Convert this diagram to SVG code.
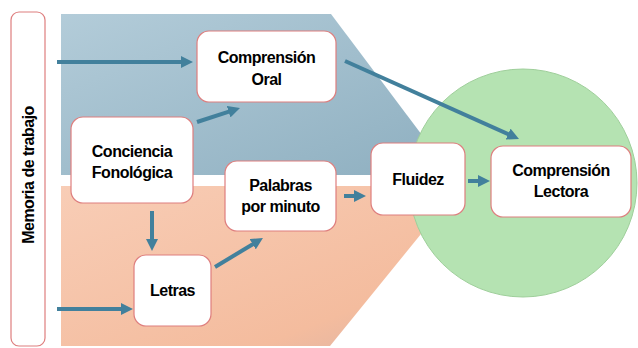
<svg xmlns="http://www.w3.org/2000/svg" width="638" height="348" viewBox="0 0 638 348">
<defs>
<linearGradient id="gBlue" x1="0" y1="0" x2="1" y2="1">
<stop offset="0" stop-color="#b3ccd9"/>
<stop offset="1" stop-color="#8eafc0"/>
</linearGradient>
<linearGradient id="gOrange" x1="0" y1="0" x2="1" y2="1">
<stop offset="0" stop-color="#f8cdb6"/>
<stop offset="0.75" stop-color="#f4bc9e"/>
<stop offset="1" stop-color="#dcb2a3"/>
</linearGradient>
<marker id="ah" viewBox="0 0 12 12" refX="2" refY="6" markerWidth="12" markerHeight="12" markerUnits="userSpaceOnUse" orient="auto">
<path d="M0,0 L12,6 L0,12 z" fill="#42809c"/>
</marker>
<style>
.node rect{fill:#ffffff;stroke:#de7e7e;stroke-width:1.2}
.lbl{font-family:"Liberation Sans",Arial,sans-serif;font-weight:bold;font-size:16px;fill:#000;text-anchor:middle;letter-spacing:-0.5px}
.conn line{stroke:#42809c;stroke-width:4;marker-end:url(#ah)}
</style>
</defs>
<rect width="638" height="348" fill="#ffffff"/>
<g id="background">
<polygon points="61,14 331,14 452,175 61,175" fill="url(#gBlue)"/>
<polygon points="61,186 460,186 330,346 61,346" fill="url(#gOrange)"/>
<circle cx="523" cy="183" r="114" fill="#b5e3b2" stroke="#9fcf9b" stroke-width="1"/>
</g>
<g id="memoria" class="node">
<rect x="11" y="12" width="34" height="334" rx="8"/>
<text class="lbl" transform="translate(34,175) rotate(-90)">Memoria de trabajo</text>
</g>
<g class="conn" id="connectors">
<line x1="57" y1="62" x2="183" y2="62"/>
<line x1="197" y1="122" x2="230.5" y2="111.1"/>
<line x1="345" y1="61" x2="509.9" y2="134.9"/>
<line x1="152" y1="211" x2="152" y2="241"/>
<line x1="57" y1="309" x2="123" y2="309"/>
<line x1="215" y1="267" x2="254.4" y2="243.2"/>
<line x1="344" y1="196" x2="356" y2="196"/>
<line x1="468" y1="181" x2="480" y2="181"/>
</g>
<g id="comprension-oral" class="node">
<rect x="197" y="31" width="139" height="71" rx="12"/>
<text class="lbl" x="266.5" y="63">Comprensión</text>
<text class="lbl" x="266.5" y="85">Oral</text>
</g>
<g id="conciencia-fonologica" class="node">
<rect x="71" y="117" width="122" height="86" rx="12"/>
<text class="lbl" x="132" y="157">Conciencia</text>
<text class="lbl" x="132" y="178">Fonológica</text>
</g>
<g id="palabras-por-minuto" class="node">
<rect x="225" y="161" width="111" height="70" rx="12"/>
<text class="lbl" x="280.5" y="191">Palabras</text>
<text class="lbl" x="280.5" y="212">por minuto</text>
</g>
<g id="letras" class="node">
<rect x="134" y="255" width="77" height="71" rx="12"/>
<text class="lbl" x="172.5" y="296">Letras</text>
</g>
<g id="fluidez" class="node">
<rect x="371" y="143" width="94" height="72" rx="12"/>
<text class="lbl" x="418" y="185">Fluidez</text>
</g>
<g id="comprension-lectora" class="node">
<rect x="491" y="146" width="140" height="71" rx="12"/>
<text class="lbl" x="561" y="176">Comprensión</text>
<text class="lbl" x="561" y="197">Lectora</text>
</g>
</svg>
